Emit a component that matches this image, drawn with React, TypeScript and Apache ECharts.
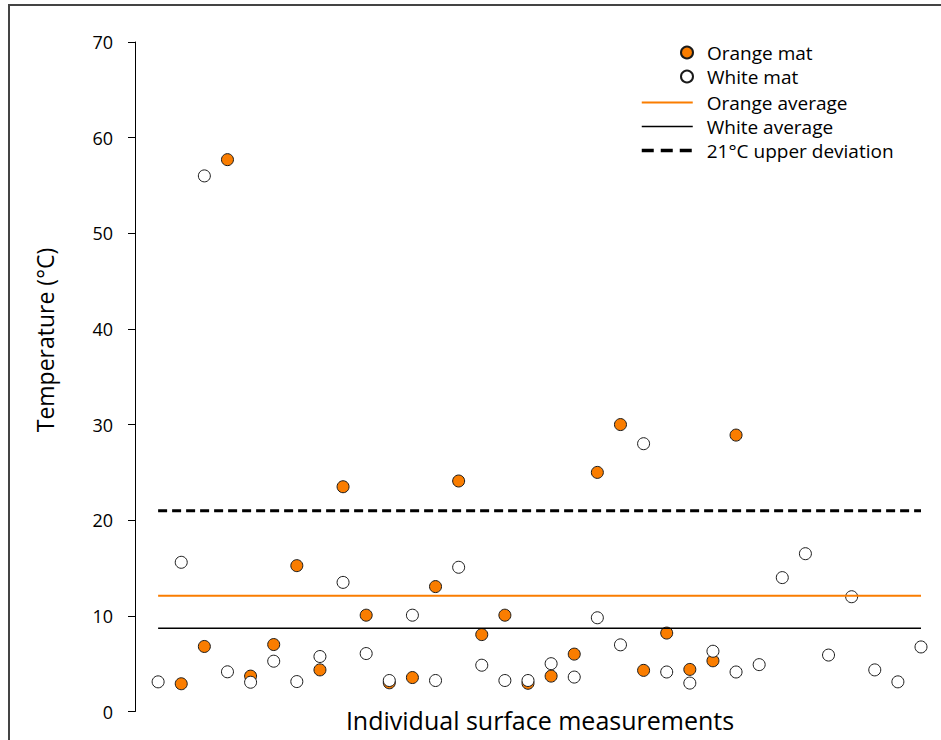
import React, { useEffect, useRef } from "react";
import * as echarts from "echarts";

// Measurement index (x position) 1..34
const measurements = [
  1, 2, 3, 4, 5, 6, 7, 8, 9, 10, 11, 12, 13, 14, 15, 16, 17,
  18, 19, 20, 21, 22, 23, 24, 25, 26, 27, 28, 29, 30, 31, 32, 33, 34,
];

// Orange mat readings, measurements 2..26
const orangeMatMeasurements = measurements.slice(1, 26);
const orangeMat = [
  2.9, 6.8, 57.7, 3.7, 7.0, 15.25, 4.35, 23.5, 10.07, 3.0, 3.55, 13.06, 24.1,
  8.04, 10.07, 2.95, 3.7, 6.0, 25.0, 30.0, 4.3, 8.2, 4.4, 5.3, 28.9,
];

// White mat readings, measurements 1..34
const whiteMat = [
  3.1, 15.6, 56.0, 4.15, 3.06, 5.26, 3.13, 5.75, 13.5, 6.06, 3.24, 10.07, 3.24,
  15.08, 4.84, 3.24, 3.24, 5.0, 3.6, 9.8, 6.97, 28.0, 4.13, 2.97, 6.3, 4.13,
  4.9, 14.0, 16.5, 5.9, 12.0, 4.35, 3.1, 6.75,
];

const orangeAverage = 12.1;
const whiteAverage = 8.7;
const upperDeviation = 21;

const yTicks = [0, 10, 20, 30, 40, 50, 60, 70];

const ORANGE = "#FA7D00";
const FONT = "Open Sans";

export default function App() {
  const ref = useRef<HTMLDivElement>(null);

  useEffect(() => {
    if (!ref.current) return;
    const chart = echarts.init(ref.current, null, { renderer: "svg" });
    const first = measurements[0];
    const last = measurements[measurements.length - 1];
    const hiddenSymbol = { opacity: 0, borderWidth: 0 };

    const option: any = {
      animation: false,
      textStyle: { fontFamily: FONT },
      grid: { left: 135, right: 20, top: 42, bottom: 28.5 },
      xAxis: {
        type: "value",
        min: 0,
        max: last,
        show: false,
      },
      yAxis: {
        type: "value",
        min: yTicks[0],
        max: yTicks[yTicks.length - 1],
        interval: 10,
        axisLine: { show: true, lineStyle: { color: "#000", width: 1 } },
        axisTick: { show: true, length: 7, lineStyle: { color: "#000", width: 1 } },
        splitLine: { show: false },
        axisLabel: { fontSize: 18, color: "#000", margin: 22, fontFamily: FONT },
      },
      legend: [
        {
          orient: "vertical",
          left: 675,
          top: 38,
          itemWidth: 26,
          itemHeight: 12,
          itemGap: 5,
          data: ["Orange mat", "White mat"],
          textStyle: {
            fontSize: 19,
            lineHeight: 19,
            color: "#000",
            fontFamily: FONT,
            padding: [0, 0, 0, 2],
          },
        },
        {
          orient: "vertical",
          left: 635,
          top: 88,
          itemWidth: 51,
          itemHeight: 19,
          itemGap: 5,
          data: [
            { name: "Orange average", lineStyle: { width: 2 }, itemStyle: hiddenSymbol },
            { name: "White average", lineStyle: { width: 1.5 }, itemStyle: hiddenSymbol },
            {
              name: "21°C upper deviation",
              lineStyle: { width: 3.5, type: [12, 7] },
              itemStyle: hiddenSymbol,
            },
          ],
          textStyle: {
            fontSize: 19,
            lineHeight: 19,
            color: "#000",
            fontFamily: FONT,
            padding: [0, 0, 0, 9],
          },
        },
      ],
      series: [
        {
          name: "Orange mat",
          type: "scatter",
          symbol: "circle",
          symbolSize: 12,
          z: 2,
          itemStyle: { color: ORANGE, borderColor: "#1a1a1a", borderWidth: 1, opacity: 1 },
          data: orangeMat.map((v, i) => [orangeMatMeasurements[i], v]),
        },
        {
          name: "White mat",
          type: "scatter",
          symbol: "circle",
          symbolSize: 12,
          z: 3,
          itemStyle: { color: "#fff", borderColor: "#1a1a1a", borderWidth: 1, opacity: 1 },
          data: whiteMat.map((v, i) => [measurements[i], v]),
        },
        {
          name: "Orange average",
          type: "line",
          symbol: "none",
          z: 4,
          color: ORANGE,
          lineStyle: { color: ORANGE, width: 2 },
          data: [
            [first, orangeAverage],
            [last, orangeAverage],
          ],
        },
        {
          name: "White average",
          type: "line",
          symbol: "none",
          z: 4,
          color: "#000",
          lineStyle: { color: "#000", width: 1.5 },
          data: [
            [first, whiteAverage],
            [last, whiteAverage],
          ],
        },
        {
          name: "21°C upper deviation",
          type: "line",
          symbol: "none",
          z: 4,
          color: "#000",
          lineStyle: { color: "#000", width: 3, type: [9, 5] },
          data: [
            [first, upperDeviation],
            [last, upperDeviation],
          ],
        },
      ],
      graphic: [
        {
          type: "rect",
          shape: { x: 9, y: 5, width: 1000, height: 800 },
          style: { fill: "none", stroke: "#444", lineWidth: 2 },
          silent: true,
        },
        {
          type: "text",
          x: 45,
          y: 340,
          rotation: Math.PI / 2,
          style: {
            text: "Temperature (°C)",
            fontSize: 23,
            fontFamily: FONT,
            fill: "#000",
            align: "center",
            verticalAlign: "middle",
          },
        },
        {
          type: "text",
          x: 540,
          y: 720,
          style: {
            text: "Individual surface measurements",
            fontSize: 25,
            fontFamily: FONT,
            fill: "#000",
            align: "center",
            verticalAlign: "middle",
          },
        },
      ],
    };

    chart.setOption(option);
    return () => chart.dispose();
  }, []);

  return (
    <div
      ref={ref}
      style={{ position: "fixed", left: 0, top: 0, width: 941, height: 740, background: "#fff" }}
    />
  );
}
